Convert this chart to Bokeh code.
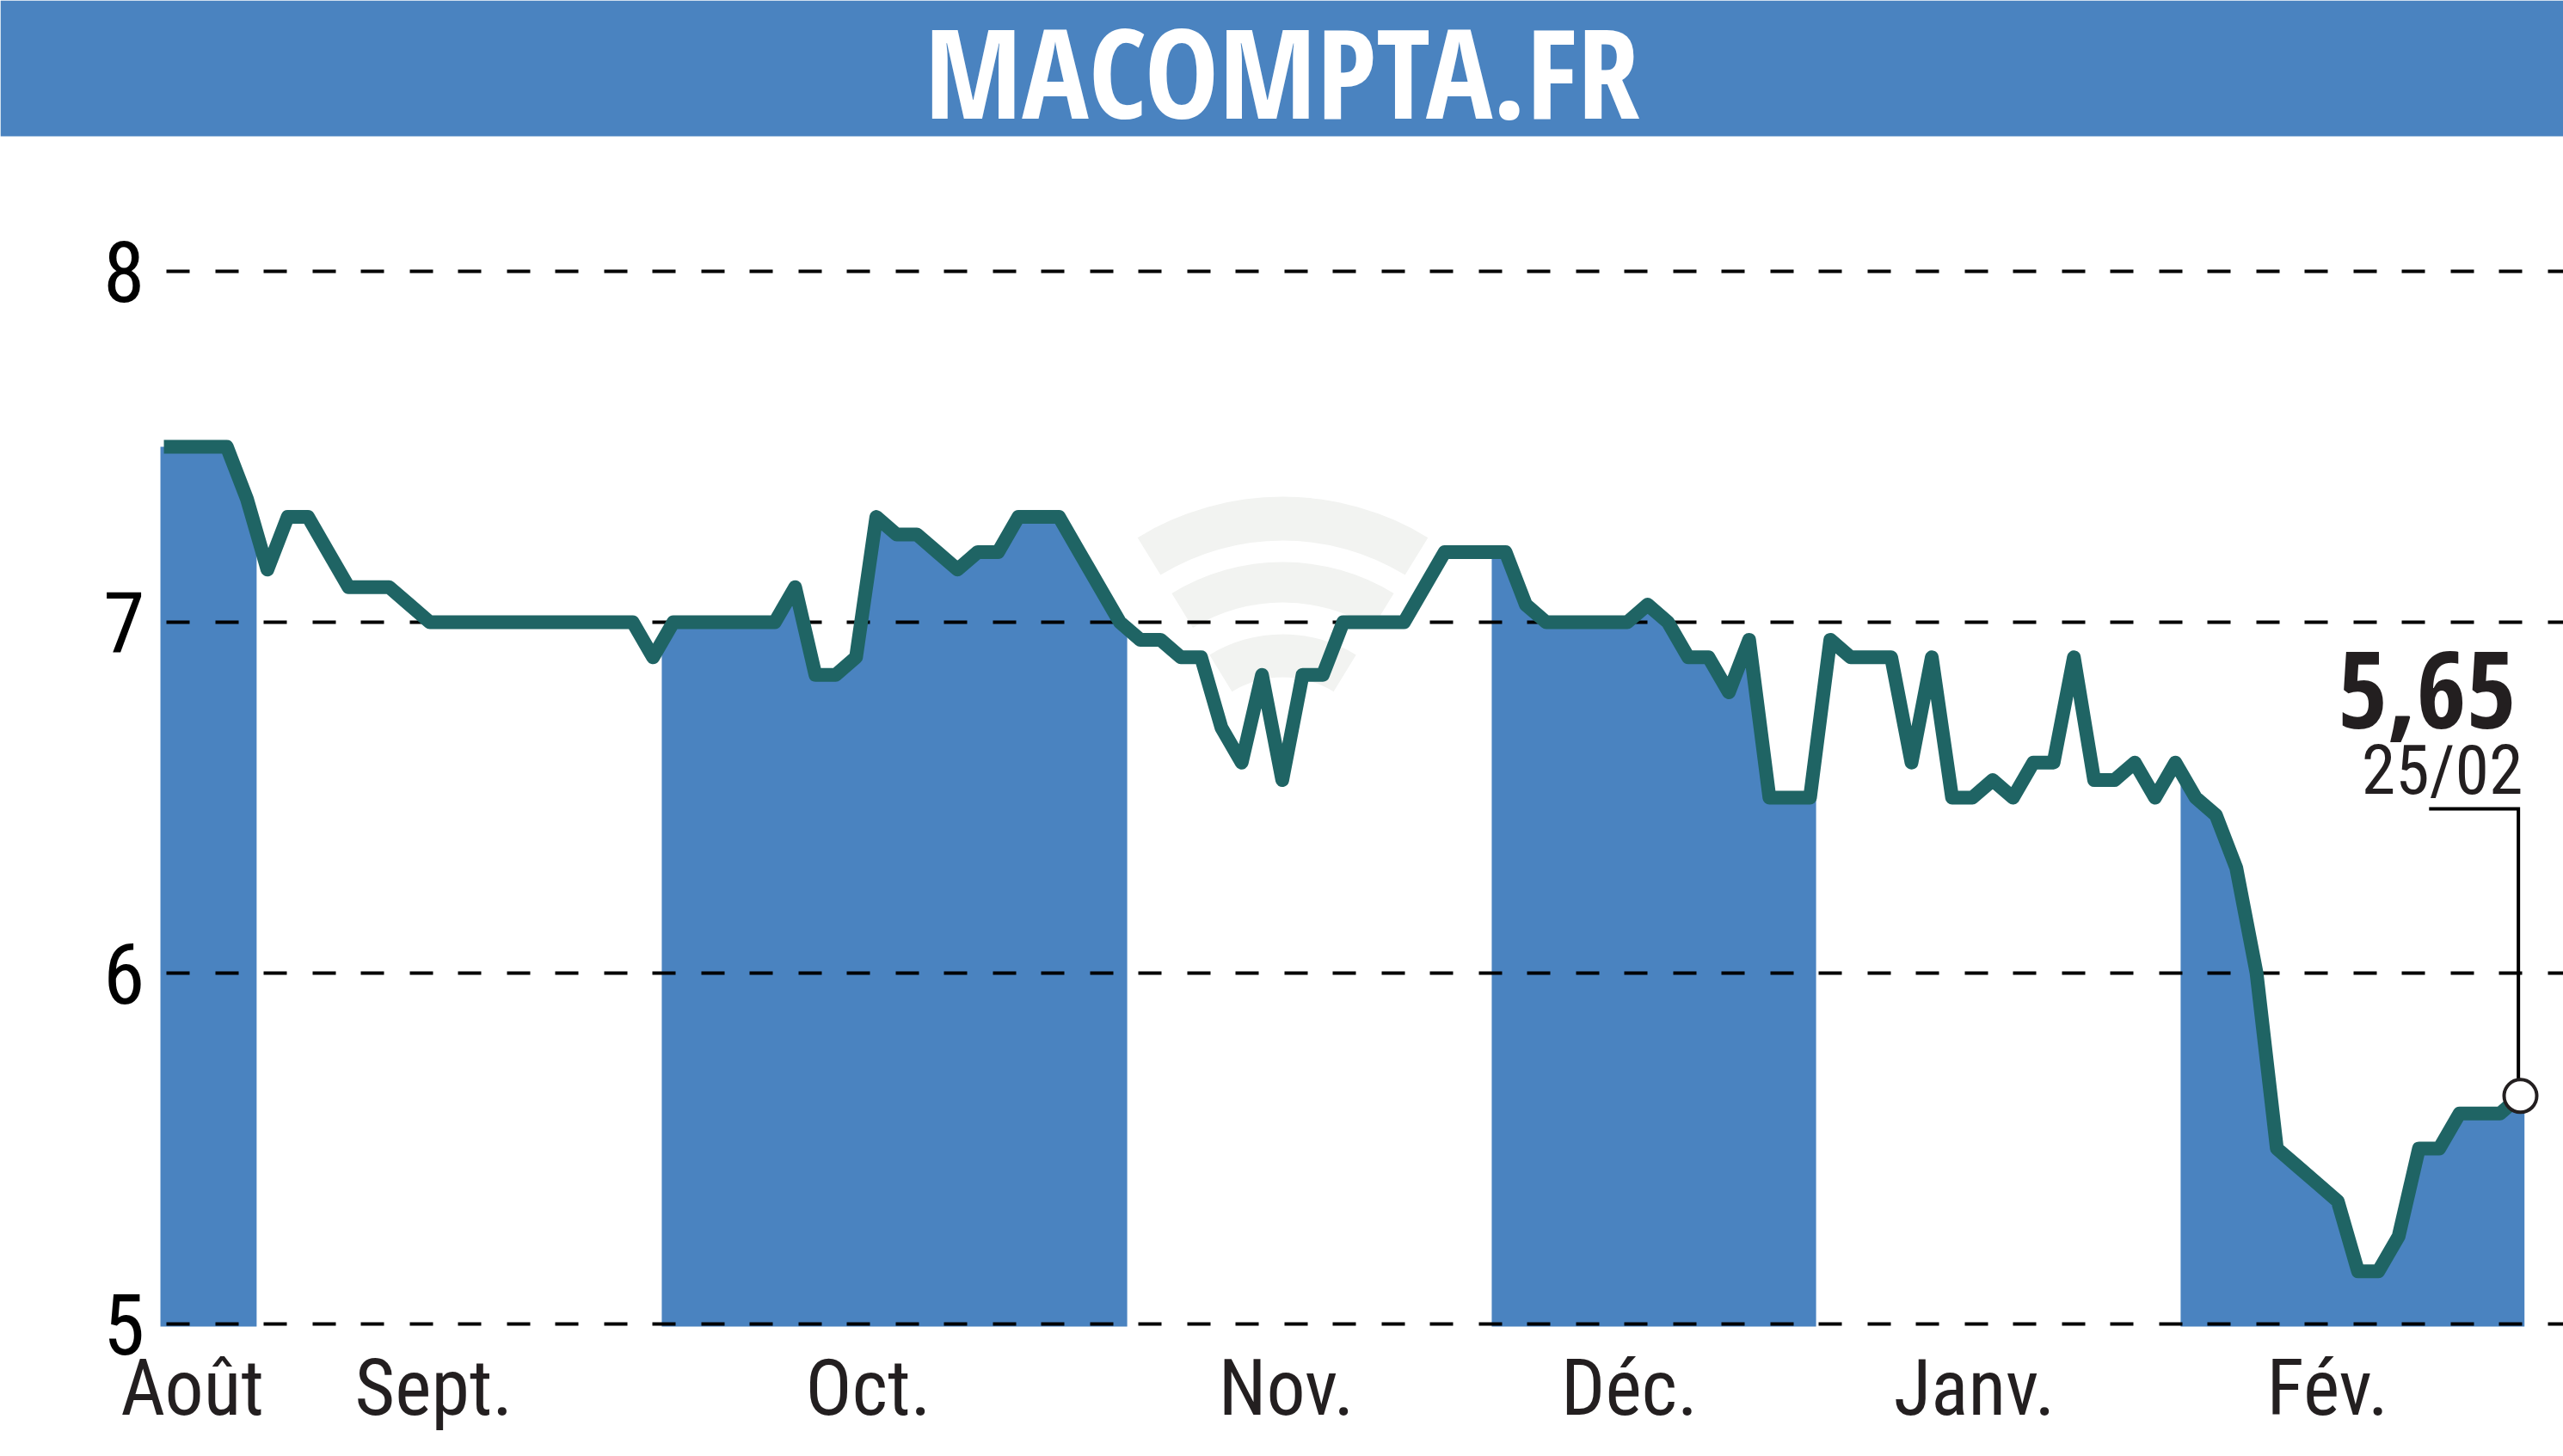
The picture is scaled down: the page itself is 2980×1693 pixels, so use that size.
from bokeh.plotting import figure
from bokeh.models import Range1d, LinearAxis, FixedTicker, Label, BoxAnnotation
from bokeh.embed import file_html
from bokeh.resources import INLINE
import numpy as np

TITLE = "MACOMPTA.FR"
LAST_PRICE_LABEL = "5,65"
LAST_DATE_LABEL = "25/02"

session = [-3.1, -2, -1] + list(range(114))
price = [7.5, 7.5, 7.5,
    7.5, 7.35, 7.15, 7.3, 7.3, 7.2, 7.1, 7.1, 7.1, 7.05,
    7.0, 7.0, 7.0, 7.0, 7.0, 7.0, 7.0, 7.0, 7.0, 7.0,
    7.0, 6.9, 7.0, 7.0, 7.0, 7.0, 7.0, 7.0, 7.1, 6.85,
    6.85, 6.9, 7.3, 7.25, 7.25, 7.2, 7.15, 7.2, 7.2, 7.3,
    7.3, 7.3, 7.2, 7.1, 7.0, 6.95, 6.95, 6.9, 6.9, 6.7,
    6.6, 6.85, 6.55, 6.85, 6.85, 7.0, 7.0, 7.0, 7.0, 7.1,
    7.2, 7.2, 7.2, 7.2, 7.05, 7.0, 7.0, 7.0, 7.0, 7.0,
    7.05, 7.0, 6.9, 6.9, 6.8, 6.95, 6.5, 6.5, 6.5, 6.95,
    6.9, 6.9, 6.9, 6.6, 6.9, 6.5, 6.5, 6.55, 6.5, 6.6,
    6.6, 6.9, 6.55, 6.55, 6.6, 6.5, 6.6, 6.5, 6.45, 6.3,
    6.0, 5.5, 5.45, 5.4, 5.35, 5.15, 5.15, 5.25, 5.5, 5.5,
    5.6, 5.6, 5.6, 5.65]

band_starts = [-3.27, 21.43, 62.32, 96.26]
band_ends = [1.47, 44.36, 78.3, 113.2]
month_labels = ["Août", "Sept.", "Oct.", "Nov.", "Déc.", "Janv.", "Fév."]
month_ticks = [-1.7, 10.2, 31.6, 52.2, 69.1, 86.1, 103.5]
price_ticks = [5, 6, 7, 8]

BLUE = "#4A83C0"
TEAL = "#1F6464"
INK = "#231F20"
FONT = "Roboto Condensed"
BOLD = "Open Sans Condensed"

# layout: page px -> data
W, H = 2980, 1693
PAD = 0
STEP = 23.6
UNIT = 408.0
sx = lambda px: 113 + (px - 2930) / STEP
vy = lambda py: 7 + (723 - py) / UNIT

p = figure(width=W, height=H, output_backend="svg", toolbar_location=None,
           x_axis_type=None, y_axis_type=None, min_border=0, outline_line_color=None,
           x_range=Range1d(sx(PAD), sx(PAD + W)), y_range=Range1d(vy(PAD + H), vy(PAD)))
p.background_fill_color = "white"
p.border_fill_color = "white"

# header band
p.add_layout(BoxAnnotation(bottom=vy(158), fill_color=BLUE, fill_alpha=1, line_color=None, level="underlay"))

# watermark
cx, cy = sx(1491), vy(900)
for r_in, r_out in [(272, 323), (200, 247), (113, 163)]:
    p.annular_wedge([cx], [cy], inner_radius=r_in, outer_radius=r_out,
                    inner_radius_units="screen", outer_radius_units="screen",
                    start_angle=np.pi / 2 - 0.55, end_angle=np.pi / 2 + 0.55,
                    fill_color="#F2F3F1", line_color=None, level="image")

# alternate month bands under the line
base = vy(1542)
for a, b in zip(band_starts, band_ends):
    inner = [(s, v) for s, v in zip(session, price) if a < s < b]
    xs = [a] + [s for s, _ in inner] + [b]
    ys = [float(np.interp(a, session, price))] + [v for _, v in inner] + [float(np.interp(b, session, price))]
    p.varea(xs, [base] * len(xs), ys, fill_color=BLUE, level="image")

# y axis and dashed gridlines
yax = LinearAxis(fixed_location=sx(180), ticker=FixedTicker(ticks=price_ticks))
yax.axis_line_color = None
yax.major_tick_line_color = None
yax.minor_tick_line_color = None
yax.major_label_standoff = 6
yax.major_label_text_font = FONT
yax.major_label_text_font_size = "98px"
yax.major_label_text_color = "black"
p.add_layout(yax, "left")

for tick in price_ticks:
    p.line([sx(193), sx(PAD + W)], [tick, tick], line_color="black", line_width=4,
           line_dash=[27, 30, 27, 29], level="underlay")

# x axis (month names)
xax = LinearAxis(fixed_location=5, ticker=FixedTicker(ticks=month_ticks),
                 major_label_overrides={t: m for t, m in zip(month_ticks, month_labels)})
xax.axis_line_color = None
xax.major_tick_line_color = None
xax.minor_tick_line_color = None
xax.major_label_standoff = 16
xax.major_label_text_font = FONT
xax.major_label_text_font_size = "90px"
xax.major_label_text_color = INK
p.add_layout(xax, "below")

# price line
p.line(session, price, line_width=16, line_color=TEAL, line_join="round", line_cap="butt")

# callout
last_s, last_v = session[-1], price[-1]
elbow = vy(940)
p.line([last_s - 4.5, last_s - 0.1, last_s - 0.1], [elbow, elbow, last_v],
       line_color="black", line_width=4, line_join="miter")
p.scatter([last_s], [last_v], marker="circle", size=38, fill_color="white",
          line_color=INK, line_width=4)

p.add_layout(Label(x=sx(2925), y=vy(802), text=LAST_PRICE_LABEL, text_align="right",
                   text_baseline="middle", text_font=BOLD, text_font_style="bold",
                   text_font_size="125px", text_color=INK))
p.add_layout(Label(x=sx(2933), y=vy(895), text=LAST_DATE_LABEL, text_align="right",
                   text_baseline="middle", text_font=FONT,
                   text_font_size="80px", text_color=INK))
p.add_layout(Label(x=sx(1490), y=vy(81), text=TITLE, text_align="center",
                   text_baseline="middle", text_font=BOLD, text_font_style="bold",
                   text_font_size="145px", text_color="white"))

open("out.html", "w").write(file_html(p, INLINE))
